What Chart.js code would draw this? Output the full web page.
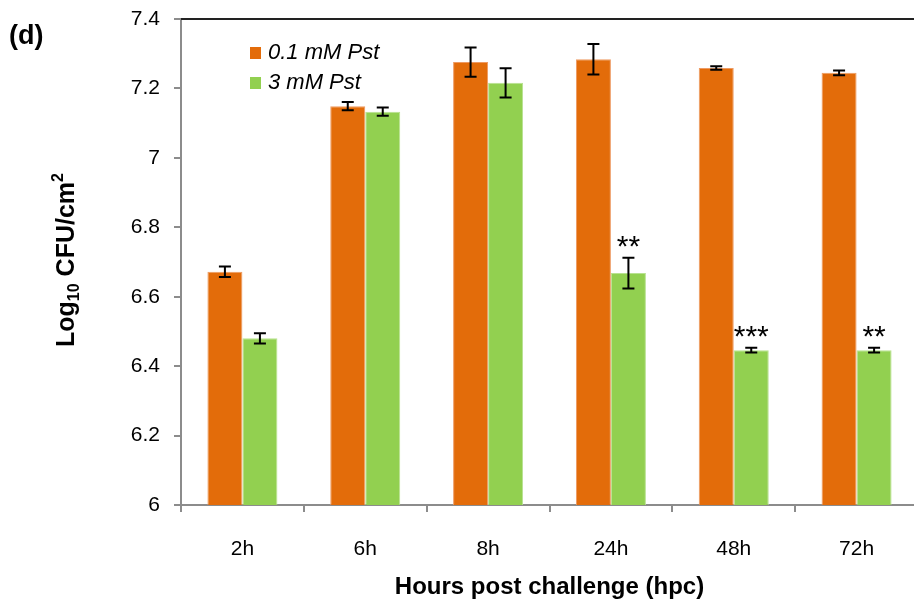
<!DOCTYPE html>
<html lang="en">
<head>
<meta charset="UTF-8">
<title>Log10 CFU/cm2 by hours post challenge</title>
<script src="https://cdn.jsdelivr.net/npm/chart.js"></script>
<style>
  html, body { margin: 0; padding: 0; background: #fff; overflow: hidden; }
  #wrap { position: absolute; left: 0; top: 0; width: 918px; height: 602px; }
</style>
</head>
<body>
<div id="wrap"><canvas id="cfuChart"></canvas></div>
<script>
// data
const hours = ['2h', '6h', '8h', '24h', '48h', '72h'];
const lowPst = [6.672, 7.149, 7.276, 7.284, 7.259, 7.245];
const lowPstErr = [0.015, 0.012, 0.042, 0.044, 0.005, 0.007];
const highPst = [6.480, 7.133, 7.216, 6.668, 6.446, 6.446];
const highPstErr = [0.015, 0.012, 0.042, 0.044, 0.007, 0.007];
const highPstMarks = ['', '', '', '**', '***', '**'];
const yTicks = [6, 6.2, 6.4, 6.6, 6.8, 7, 7.2, 7.4];

const FONT = '"Liberation Sans", Arial, sans-serif';
const errors = [lowPstErr, highPstErr];
const marks = [null, highPstMarks];

// error bars, significance stars, legend and titles
const extras = {
  id: 'extras',
  afterDatasetsDraw(chart) {
    const ctx = chart.ctx;
    const y = chart.scales.y;
    ctx.save();
    chart.data.datasets.forEach((ds, i) => {
      const meta = chart.getDatasetMeta(i);
      meta.data.forEach((bar, j) => {
        const v = ds.data[j], e = errors[i][j];
        const top = y.getPixelForValue(v + e);
        const bot = y.getPixelForValue(v - e);
        ctx.strokeStyle = '#000';
        ctx.lineWidth = 2;
        ctx.beginPath();
        ctx.moveTo(bar.x, top); ctx.lineTo(bar.x, bot);
        ctx.moveTo(bar.x - 6, top); ctx.lineTo(bar.x + 6, top);
        ctx.moveTo(bar.x - 6, bot); ctx.lineTo(bar.x + 6, bot);
        ctx.stroke();
        if (marks[i] && marks[i][j]) {
          ctx.fillStyle = '#000';
          ctx.font = '30px ' + FONT;
          ctx.textAlign = 'center';
          ctx.textBaseline = 'alphabetic';
          ctx.fillText(marks[i][j], bar.x, top - 2);
        }
      });
    });
    ctx.restore();
  },
  afterDraw(chart) {
    const ctx = chart.ctx;
    const area = chart.chartArea;
    ctx.save();
    // top frame line
    ctx.strokeStyle = '#222';
    ctx.lineWidth = 2;
    ctx.beginPath();
    ctx.moveTo(area.left, area.top);
    ctx.lineTo(area.right, area.top);
    ctx.stroke();

    // legend
    chart.data.datasets.forEach((ds, i) => {
      const ly = 53 + i * 30;
      ctx.fillStyle = ds.backgroundColor;
      ctx.fillRect(250, ly - 6, 11, 12);
      ctx.fillStyle = '#000';
      ctx.font = 'italic 22px ' + FONT;
      ctx.textAlign = 'left';
      ctx.textBaseline = 'middle';
      ctx.fillText(ds.label, 268, ly);
    });

    // panel label
    ctx.font = 'bold 27px ' + FONT;
    ctx.textAlign = 'left';
    ctx.textBaseline = 'middle';
    ctx.fillText('(d)', 9, 37);

    // x title
    ctx.font = 'bold 24px ' + FONT;
    ctx.textAlign = 'center';
    ctx.textBaseline = 'alphabetic';
    ctx.fillText('Hours post challenge (hpc)', (area.left + area.right) / 2, 594);

    // y title with sub/superscript
    const parts = [
      { t: 'Log', f: 'bold 25px ', dy: 0 },
      { t: '10', f: 'bold 16px ', dy: 5 },
      { t: ' CFU/cm', f: 'bold 25px ', dy: 0 },
      { t: '2', f: 'bold 16px ', dy: -11 }
    ];
    let total = 0;
    parts.forEach(p => { ctx.font = p.f + FONT; p.w = ctx.measureText(p.t).width; total += p.w; });
    ctx.translate(74, 260);
    ctx.rotate(-Math.PI / 2);
    ctx.textAlign = 'left';
    let x = -total / 2;
    parts.forEach(p => {
      ctx.font = p.f + FONT;
      ctx.fillText(p.t, x, p.dy);
      x += p.w;
    });
    ctx.restore();
  }
};

new Chart(document.getElementById('cfuChart'), {
  type: 'bar',
  data: {
    labels: hours,
    datasets: [
      {
        label: '0.1 mM Pst',
        data: lowPst,
        backgroundColor: '#E36C0A',
        borderColor: '#EE9A62',
        borderWidth: 1
      },
      {
        label: '3 mM Pst',
        data: highPst,
        backgroundColor: '#92D050',
        borderColor: '#B8E290',
        borderWidth: 1
      }
    ]
  },
  options: {
    responsive: true,
    maintainAspectRatio: false,
    animation: false,
    datasets: { bar: { categoryPercentage: 0.57, barPercentage: 1.0 } },
    layout: { padding: { top: 19, left: 0, right: 0, bottom: 0 } },
    plugins: {
      legend: { display: false },
      tooltip: { enabled: false }
    },
    scales: {
      x: {
        afterFit(scale) {
          scale.height = 97;
          scale.paddingLeft = 0; scale.paddingRight = 0;
        },
        border: { color: '#8c8c8c', width: 2 },
        grid: { drawOnChartArea: false, color: '#8c8c8c', lineWidth: 2, tickLength: 7, offset: true },
        ticks: { color: '#000', font: { family: FONT, size: 21 }, padding: 25 }
      },
      y: {
        min: 6,
        max: 7.4,
        afterFit(scale) {
          scale.width = 181;
          scale.paddingTop = 0; scale.paddingBottom = 0;
        },
        afterBuildTicks(scale) { scale.ticks = yTicks.map(v => ({ value: v })); },
        border: { color: '#8c8c8c', width: 2 },
        grid: { drawOnChartArea: false, color: '#8c8c8c', lineWidth: 2, tickLength: 7 },
        ticks: {
          color: '#000',
          font: { family: FONT, size: 21 },
          padding: 14,
          callback: v => String(Math.round(v * 10) / 10)
        }
      }
    }
  },
  plugins: [extras]
});
</script>
</body>
</html>
